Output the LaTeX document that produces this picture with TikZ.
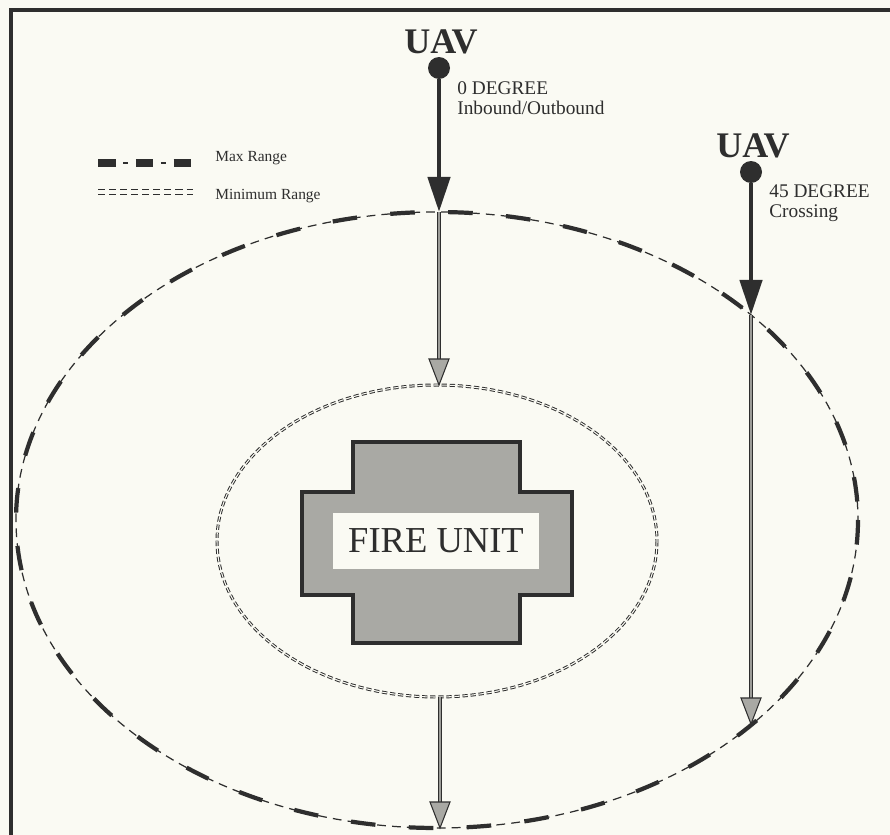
\documentclass[tikz,border=0pt]{standalone}
\usepackage{fontspec}
\setmainfont{Liberation Serif}
\usetikzlibrary{arrows.meta,decorations.markings}
\definecolor{PaperWhite}{HTML}{FAFAF3}
\definecolor{InkDark}{HTML}{2E2E2E}
\definecolor{StippleGray}{HTML}{A9A9A4}
\definecolor{ShaftGray}{HTML}{9C9C98}

\begin{document}
\begin{tikzpicture}[x=0.02cm, y=-0.02cm,
    uav/.style={font=\fontsize{20.5}{22}\selectfont\bfseries, text=InkDark, inner sep=0pt},
    ball/.style={circle, fill=InkDark, minimum size=0.44cm, inner sep=0pt},
    lbl/.style={font=\fontsize{11}{13}\selectfont, text=InkDark, anchor=west, inner sep=0pt},
    leg/.style={font=\fontsize{8.8}{10}\selectfont, text=InkDark, anchor=west, inner sep=0pt},
    frame/.style={draw=InkDark, line width=2.3pt},
    maxrange/.style={draw=InkDark, line width=0.7pt, dash pattern=on 5pt off 3.5pt,
                     postaction={draw=InkDark, line width=2.4pt, dash pattern=on 14pt off 19pt}},
    minrange/.style={draw=InkDark, line width=0.55pt, double=PaperWhite, double distance=0.6pt,
                     dash pattern=on 3pt off 1.6pt},
    fireunit/.style={draw=InkDark, line width=2.6pt, fill=StippleGray, line join=miter},
    firebox/.style={fill=PaperWhite, minimum width=4.14cm, minimum height=1.14cm,
                    font=\fontsize{20.8}{24}\selectfont, text=InkDark},
    thickarr/.style={-{Triangle[width=12.5pt, length=20pt]}, line width=2.8pt, color=InkDark},
    thinarr/.style={draw=InkDark, line width=0.7pt, double=ShaftGray, double distance=0.6pt,
                    shorten >=12pt,
                    postaction={decorate, decoration={markings, mark=at position 1 with
                      {\filldraw[fill=StippleGray, draw=InkDark, line width=0.6pt]
                        (0,0) -- (-26,10) -- (-26,-10) -- cycle;}}}},
  ]
    \useasboundingbox[fill=PaperWhite] (0,0) rectangle (890,835);

    % Rahmen
    \draw[frame] (11,835) -- (11,10) -- (890,10);

    % Legende
    \draw[InkDark, line width=4pt, dash pattern=on 10pt off 11.5pt] (98,163) -- (193,163);
    \draw[InkDark, line width=1.2pt, dash pattern=on 3pt off 18.5pt, dash phase=7.25pt] (98,163) -- (193,163);
    \node[leg] (lmax) at (215,158) {Max Range};
    \draw[InkDark, line width=0.8pt, double=PaperWhite, double distance=1.9pt,
          dash pattern=on 4pt off 2.3pt] (98,192) -- (193,192);
    \node[leg] (lmin) at (215,196) {Minimum Range};

    % Reichweiten
    \draw[maxrange] (437,520) ellipse [x radius=421, y radius=308];
    \draw[minrange] (437,541) ellipse [x radius=220, y radius=156];

    % Feuereinheit
    \filldraw[fireunit] (353,442) -- (520,442) -- (520,492) -- (572,492) -- (572,595)
      -- (520,595) -- (520,643) -- (353,643) -- (353,595) -- (302,595) -- (302,492)
      -- (353,492) -- cycle;
    \node[firebox] (fire) at (436,541) {FIRE UNIT};

    % UAV 0 Grad
    \node[uav] (uavA) at (441,42) {UAV};
    \node[ball] (ballA) at (439,68) {};
    \node[lbl] (degA) at (457,88) {0 DEGREE};
    \node[lbl] (modeA) at (457,108) {Inbound/Outbound};

    % UAV 45 Grad
    \node[uav] (uavB) at (753,146) {UAV};
    \node[ball] (ballB) at (751,172) {};
    \node[lbl] (degB) at (769,191) {45 DEGREE};
    \node[lbl] (modeB) at (769,213) {Crossing};

    % Schnittpunkte mit den Ellipsen
    \coordinate (maxA) at (439,212);
    \coordinate (minA) at (439,385);
    \coordinate (minC) at (440,697);
    \coordinate (maxC) at (440,828);
    \coordinate (maxB) at (751,315);
    \coordinate (maxD) at (751,724);

    \draw[thickarr] (ballA) -- (maxA);
    \draw[thinarr] (maxA) -- (minA);
    \draw[thinarr] (minC) -- (maxC);
    \draw[thickarr] (ballB) -- (maxB);
    \draw[thinarr] (maxB) -- (maxD);
  \end{tikzpicture}
\end{document}
